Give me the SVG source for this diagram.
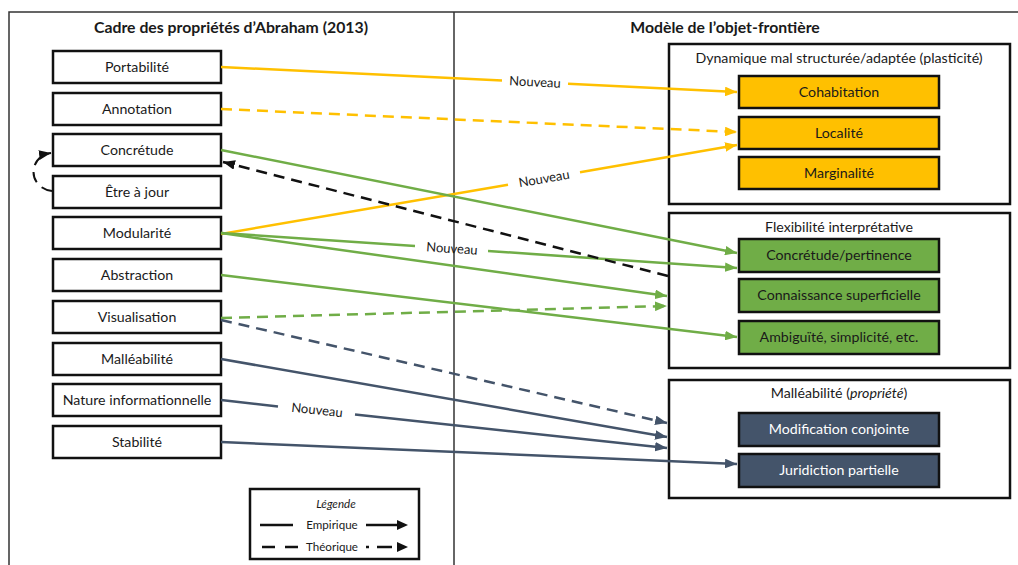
<svg xmlns="http://www.w3.org/2000/svg" width="1018" height="565" viewBox="0 0 1018 565">
  <style>
    text { font-family: Lato, "Liberation Sans", sans-serif; fill: #1a1a1a; }
    .title { font-size: 15.8px; font-weight: bold; text-anchor: middle; }
    .lbl { font-size: 14.2px; text-anchor: middle; }
    .grp-title { font-size: 14.2px; text-anchor: middle; }
    .light { fill: #ffffff; }
    .nv { font-size: 13px; text-anchor: middle; }
    .node { fill: #ffffff; stroke: #111111; stroke-width: 2.5; }
    .grp { fill: #ffffff; stroke: #111111; stroke-width: 2.5; }
    .yel { fill: #FFC000; stroke: #111111; stroke-width: 2.5; }
    .grn { fill: #70AD47; stroke: #111111; stroke-width: 2.5; }
    .sla { fill: #44546A; stroke: #111111; stroke-width: 2.5; }
    .frame { stroke: #333333; stroke-width: 1.5; fill: none; }
    .c { fill: none; stroke-width: 2.5; }
    .cy { stroke: #FFC000; }
    .cg { stroke: #70AD47; }
    .cs { stroke: #44546A; }
    .ck { stroke: #111111; }
    .dash { stroke-dasharray: 11 7; }
    .leg { font-size: 11.6px; text-anchor: middle; }
  </style>
  <defs>
    <marker id="ay" viewBox="0 0 10 8" refX="10" refY="4" markerWidth="12" markerHeight="9.6" markerUnits="userSpaceOnUse" orient="auto">
      <path d="M0,0 L10,4 L0,8 z" fill="#FFC000"/>
    </marker>
    <marker id="ag" viewBox="0 0 10 8" refX="10" refY="4" markerWidth="12" markerHeight="9.6" markerUnits="userSpaceOnUse" orient="auto">
      <path d="M0,0 L10,4 L0,8 z" fill="#70AD47"/>
    </marker>
    <marker id="as" viewBox="0 0 10 8" refX="10" refY="4" markerWidth="12" markerHeight="9.6" markerUnits="userSpaceOnUse" orient="auto">
      <path d="M0,0 L10,4 L0,8 z" fill="#44546A"/>
    </marker>
    <marker id="ak" viewBox="0 0 10 8" refX="10" refY="4" markerWidth="12" markerHeight="9.6" markerUnits="userSpaceOnUse" orient="auto">
      <path d="M0,0 L10,4 L0,8 z" fill="#111111"/>
    </marker>
  </defs>

  <rect width="1018" height="565" fill="#ffffff"/>

  <!-- outer frame and column divider -->
  <g id="frame">
    <path class="frame" d="M9,565 V12 H1018"/>
    <path class="frame" d="M454,12 V565"/>
    <text class="title" x="231" y="33" font-size="16.4px">Cadre des propriétés d’Abraham (2013)</text>
    <text class="title" x="725" y="33">Modèle de l’objet-frontière</text>
  </g>

  <!-- left column: Abraham properties -->
  <g id="portabilite"><rect class="node" x="53" y="51" width="168" height="32"/><text class="lbl" x="137" y="72">Portabilité</text></g>
  <g id="annotation"><rect class="node" x="53" y="93" width="168" height="32"/><text class="lbl" x="137" y="114">Annotation</text></g>
  <g id="concretude"><rect class="node" x="53" y="134" width="168" height="32"/><text class="lbl" x="137" y="155">Concrétude</text></g>
  <g id="etre-a-jour"><rect class="node" x="53" y="176" width="168" height="32"/><text class="lbl" x="137" y="197">Être à jour</text></g>
  <g id="modularite"><rect class="node" x="53" y="217" width="168" height="32"/><text class="lbl" x="137" y="238">Modularité</text></g>
  <g id="abstraction"><rect class="node" x="53" y="259" width="168" height="32"/><text class="lbl" x="137" y="280">Abstraction</text></g>
  <g id="visualisation"><rect class="node" x="53" y="301" width="168" height="32"/><text class="lbl" x="137" y="322">Visualisation</text></g>
  <g id="malleabilite"><rect class="node" x="53" y="343" width="168" height="32"/><text class="lbl" x="137" y="364">Malléabilité</text></g>
  <g id="nature-info"><rect class="node" x="53" y="384" width="168" height="32"/><text class="lbl" x="137" y="405">Nature informationnelle</text></g>
  <g id="stabilite"><rect class="node" x="53" y="426" width="168" height="32"/><text class="lbl" x="137" y="447">Stabilité</text></g>

  <!-- right column: boundary-object model -->
  <g id="grp-dynamique">
    <rect class="grp" x="669" y="44" width="341" height="160"/>
    <text class="grp-title" x="839" y="63">Dynamique mal structurée/adaptée (plasticité)</text>
  </g>
  <g id="cohabitation"><rect class="yel" x="739" y="76" width="200" height="32"/><text class="lbl" x="839" y="97">Cohabitation</text></g>
  <g id="localite"><rect class="yel" x="739" y="117" width="200" height="32"/><text class="lbl" x="839" y="138">Localité</text></g>
  <g id="marginalite"><rect class="yel" x="739" y="157" width="200" height="32"/><text class="lbl" x="839" y="178">Marginalité</text></g>

  <g id="grp-flexibilite">
    <rect class="grp" x="669" y="213" width="341" height="155"/>
    <text class="grp-title" x="839" y="232">Flexibilité interprétative</text>
  </g>
  <g id="concretude-pertinence"><rect class="grn" x="739" y="239" width="200" height="33"/><text class="lbl" x="839" y="260">Concrétude/pertinence</text></g>
  <g id="connaissance"><rect class="grn" x="739" y="279" width="200" height="33"/><text class="lbl" x="839" y="300">Connaissance superficielle</text></g>
  <g id="ambiguite"><rect class="grn" x="739" y="321" width="200" height="33"/><text class="lbl" x="839" y="342">Ambiguïté, simplicité, etc.</text></g>

  <g id="grp-malleabilite">
    <rect class="grp" x="669" y="380" width="341" height="118"/>
    <text class="grp-title" x="839" y="398">Malléabilité (<tspan font-style="italic">propriété</tspan>)</text>
  </g>
  <g id="modification"><rect class="sla" x="739" y="413" width="200" height="33"/><text class="lbl light" x="839" y="434">Modification conjointe</text></g>
  <g id="juridiction"><rect class="sla" x="739" y="454" width="200" height="33"/><text class="lbl light" x="839" y="475">Juridiction partielle</text></g>

  <!-- connectors -->
  <g id="connectors">
    <!-- plasticity -->
    <path class="c cy" d="M221,67 L502,80.6"/>
    <path class="c cy" d="M568,83.8 L737,92" marker-end="url(#ay)"/>
    <text class="nv" x="535" y="86.5" transform="rotate(2.8 535 82.2)">Nouveau</text>
    <path class="c cy dash" d="M221,109 L737,132" marker-end="url(#ay)"/>
    <path class="c cy" d="M221,234 L508,184.7"/>
    <path class="c cy" d="M580,172.3 L737,145" marker-end="url(#ay)"/>
    <text class="nv" x="544" y="183" transform="rotate(-9.8 544 178.5)">Nouveau</text>

    <!-- interpretive flexibility -->
    <path class="c cg" d="M221,150 L737,253" marker-end="url(#ag)"/>
    <path class="c cg" d="M221,233 L415,246.1"/>
    <path class="c cg" d="M488,251 L737,268" marker-end="url(#ag)"/>
    <text class="nv" x="452" y="253" transform="rotate(3.9 452 248.6)">Nouveau</text>
    <path class="c cg" d="M221,233 L667,296" marker-end="url(#ag)"/>
    <path class="c cg" d="M221,275 L737,337" marker-end="url(#ag)"/>
    <path class="c cg dash" d="M221,318 L667,306" marker-end="url(#ag)"/>

    <!-- back to Concrétude -->
    <path class="c ck dash" d="M668,276 L223,162" marker-end="url(#ak)"/>
    <path class="ck dash" fill="none" stroke-width="2" stroke-dasharray="8 5" d="M52,191 C28,188 27,157 51,153" marker-end="url(#ak)"/>

    <!-- malleability -->
    <path class="c cs dash" d="M221,320 L667,423" marker-end="url(#as)"/>
    <path class="c cs" d="M221,359 L667,437" marker-end="url(#as)"/>
    <path class="c cs" d="M221,400 L278,406.5"/>
    <path class="c cs" d="M355,414.5 L667,448" marker-end="url(#as)"/>
    <text class="nv" x="317" y="414.5" transform="rotate(6.1 317 410)">Nouveau</text>
    <path class="c cs" d="M221,442 L737,464" marker-end="url(#as)"/>
  </g>

  <!-- legend -->
  <g id="legende">
    <rect x="250" y="489" width="169" height="70" fill="#ffffff" stroke="#111111" stroke-width="2.5"/>
    <text class="leg" x="336" y="508" font-style="italic">Légende</text>
    <path d="M260,525 H293" stroke="#111111" stroke-width="2.5"/>
    <text class="leg" x="332" y="529">Empirique</text>
    <path d="M366,525 H397" stroke="#111111" stroke-width="2.5"/>
    <path d="M397,520 L408,525 L397,530 z" fill="#111111"/>
    <path d="M262,547 H275 M285,547 H298" stroke="#111111" stroke-width="2.5"/>
    <text class="leg" x="332" y="551">Théorique</text>
    <path d="M366,547 H369 M377,547 H392" stroke="#111111" stroke-width="2.5"/>
    <path d="M397,542 L408,547 L397,552 z" fill="#111111"/>
  </g>
</svg>
